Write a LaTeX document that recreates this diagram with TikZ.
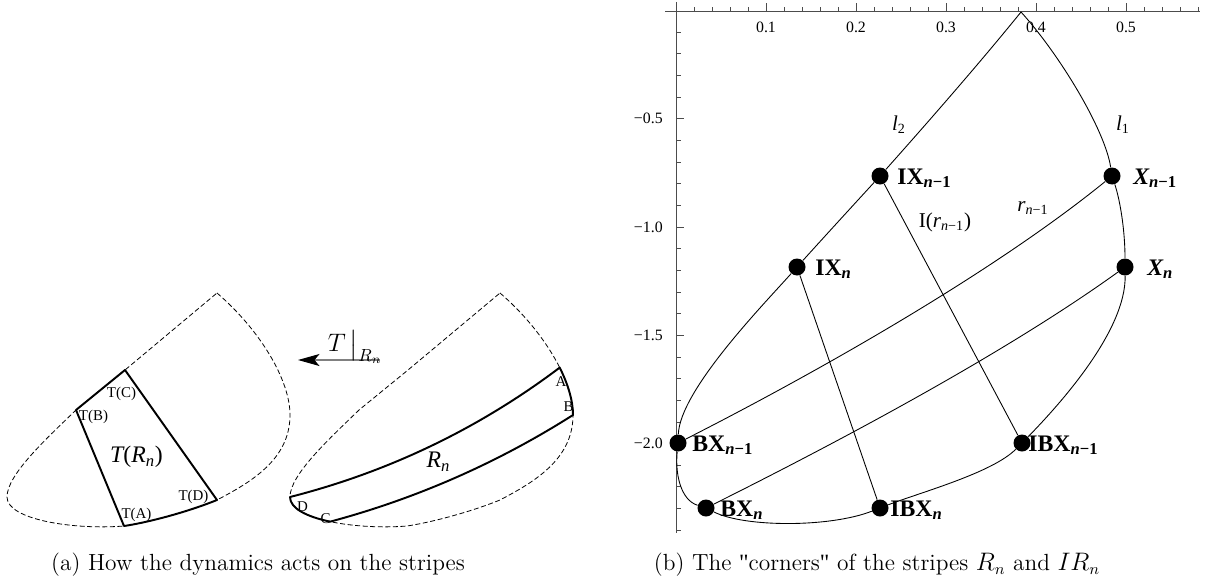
\documentclass[tikz,border=0pt]{standalone}
\usepackage{fontspec}
\usepackage{amsmath}
\usetikzlibrary{arrows.meta}
\newfontfamily\tms{Liberation Serif}
\newfontfamily\tmsq{Liberation Serif}[Ligatures=TeXOff]
\newcommand{\ti}[1]{{\itshape #1}}
\newcommand{\sq}{{\tmsq\symbol{34}}}
\tikzset{
  bnd/.style={draw=black, line width=0.45pt, dash pattern=on 2.8pt off 1.5pt},
  strp/.style={draw=black, line width=1.1pt, line join=round},
  crv/.style={draw=black, line width=0.5pt},
  axs/.style={draw=black!70, line width=0.5pt},
  tk/.style={draw=black!70, line width=0.4pt},
  dot/.style={circle, fill=black, inner sep=0pt, minimum size=3.4mm},
  crn/.style={font=\tms\fontsize{8.5}{10}\selectfont, inner sep=0pt},
  big/.style={font=\tms\fontsize{13.5}{16}\selectfont, inner sep=0pt},
  num/.style={font=\tms\fontsize{9}{11}\selectfont, inner sep=0pt},
  crvlbl/.style={font=\tms\fontsize{12}{14}\selectfont, inner sep=0pt},
  dotlbl/.style={font=\tms\bfseries\fontsize{13.5}{16}\selectfont, inner sep=0pt, anchor=base west},
  maplbl/.style={font=\fontsize{14}{17}\selectfont, inner sep=0pt},
  maparr/.style={-{Stealth[length=4.3mm, width=2.4mm, inset=1mm, black]}, draw=black!50, line width=0.6pt},
  capt/.style={font=\fontsize{13.3}{16}\selectfont, inner sep=0pt},
}
\begin{document}
\begin{tikzpicture}[x=1cm,y=1cm]
  \useasboundingbox (0,0) rectangle (24.14,-11.72);
  % (a) the two copies of the domain
  \foreach \sx in {0,5.66} {
    \begin{scope}[xshift=\sx cm]
      \draw[bnd] (4.340,-5.860) .. controls (5.200,-6.600) and (5.800,-7.600) .. (5.800,-8.300)
        .. controls (5.800,-9.200) and (5.000,-9.650) .. (4.340,-10.000)
        .. controls (3.720,-10.250) and (2.950,-10.450) .. (2.480,-10.520)
        .. controls (1.500,-10.600) and (0.140,-10.400) .. (0.140,-9.940)
        .. controls (0.140,-9.500) and (0.900,-8.800) .. (1.520,-8.200)
        -- (2.500,-7.400) -- cycle;
    \end{scope}
  }
  % image T(R_n)
  \coordinate (ta) at (2.480,-10.520);
  \coordinate (tb) at (1.520,-8.200);
  \coordinate (tc) at (2.500,-7.400);
  \coordinate (td) at (4.340,-10.000);
  \draw[strp] (tb) -- (tc) -- (td) .. controls (3.720,-10.250) and (2.950,-10.450) .. (ta) -- cycle;
  \node[crn] (ltc) at (2.430,-7.870) {T(C)};
  \node[crn] (ltb) at (1.870,-8.330) {T(B)};
  \node[big] (ltr) at (2.730,-9.130) {\ti{T}(\ti{R}\textsubscript{\ti{n}})};
  \node[crn] (ltd) at (3.870,-9.930) {T(D)};
  \node[crn] (lta) at (2.730,-10.300) {T(A)};
  % stripe R_n
  \coordinate (ra) at (11.194,-7.352);
  \coordinate (rb) at (11.460,-8.300);
  \coordinate (rc) at (6.603,-10.433);
  \coordinate (rd) at (5.800,-9.940);
  \draw[strp] (ra) .. controls (11.364,-7.692) and (11.460,-8.020) .. (rb)
    .. controls (9.950,-9.258) and (8.331,-9.969) .. (rc)
    .. controls (6.140,-10.335) and (5.800,-10.170) .. (rd)
    .. controls (7.771,-9.438) and (9.569,-8.576) .. (ra) -- cycle;
  \node[crn] (lra) at (11.220,-7.630) {A};
  \node[crn] (lrb) at (11.370,-8.130) {B};
  \node[crn] (lrc) at (6.510,-10.370) {C};
  \node[crn] (lrd) at (6.050,-10.130) {D};
  \node[big] (lrn) at (8.770,-9.230) {\ti{R}\textsubscript{\ti{n}}};
  % the map
  \coordinate (mapfrom) at (7.600,-7.200);
  \coordinate (mapto) at (5.960,-7.200);
  \draw[maparr] (mapfrom) -- (mapto);
  \node[maplbl] (mapname) at (7.100,-6.940) {$T\,\big|_{R_n}$};
  \node[capt] (capa) at (5.160,-11.300) {(a) How the dynamics acts on the stripes};

  % (b) axes
  \draw[axs] (13.300,-0.220) -- (24.000,-0.220);
  \draw[axs] (13.520,-0.040) -- (13.520,-10.660);
  \foreach \i in {1,...,29}
    \draw[tk] ({13.52+0.36*\i},-0.220) -- ++(0,0.090);
  \foreach \i/\v in {5/0.1,10/0.2,15/0.3,20/0.4,25/0.5} {
    \draw[tk] ({13.52+0.36*\i},-0.220) -- ++(0,0.160);
    \node[num] at ({13.52+0.36*\i},-0.540) {\v};
  }
  \foreach \j in {1,...,24}
    \draw[tk] (13.520,{-0.21-0.433*\j}) -- ++(0.090,0);
  \foreach \j/\v in {5/0.5,10/1.0,15/1.5,20/2.0} {
    \draw[tk] (13.520,{-0.21-0.433*\j}) -- ++(0.160,0);
    \node[num, anchor=east] at (13.260,{-0.21-0.433*\j}) {−\v};
  }
  % corners
  \coordinate (tipb) at (20.420,-0.240);
  \node[dot] (ixm) at (17.600,-3.520) {};
  \node[dot] (xm) at (22.240,-3.520) {};
  \node[dot] (ixn) at (15.940,-5.340) {};
  \node[dot] (xn) at (22.500,-5.340) {};
  \node[dot] (bxm) at (13.560,-8.860) {};
  \node[dot] (ibxm) at (20.440,-8.860) {};
  \node[dot] (bxn) at (14.120,-10.160) {};
  \node[dot] (ibxn) at (17.600,-10.160) {};
  \draw[crv] (tipb) .. controls (19.570,-1.290) and (18.500,-2.510) .. (ixm)
    .. controls (17.050,-4.120) and (16.500,-4.720) .. (ixn)
    .. controls (15.300,-6.060) and (13.600,-7.800) .. (bxm)
    .. controls (13.500,-9.500) and (13.620,-10.000) .. (bxn)
    .. controls (14.900,-10.550) and (16.600,-10.550) .. (ibxn)
    .. controls (18.400,-9.850) and (19.840,-9.460) .. (ibxm)
    .. controls (21.240,-8.040) and (22.520,-6.600) .. (xn)
    .. controls (22.500,-4.600) and (22.400,-4.000) .. (xm)
    .. controls (22.100,-2.600) and (21.200,-1.100) .. (tipb);
  \draw[crv] (xm) .. controls (19.740,-5.550) and (16.060,-7.590) .. (bxm);
  \draw[crv] (xn) .. controls (20.000,-7.140) and (16.520,-8.960) .. (bxn);
  \draw[crv] (ixm) -- (ibxm);
  \draw[crv] (ixn) -- (ibxn);
  \node[crvlbl] (ltwo) at (17.980,-2.500) {\ti{l}\textsubscript{2}};
  \node[crvlbl] (lone) at (22.460,-2.500) {\ti{l}\textsubscript{1}};
  \node[crvlbl] (irm) at (18.900,-4.440) {I(\ti{r}\textsubscript{\ti{n}−1})};
  \node[crvlbl] (rm) at (20.660,-4.160) {\ti{r}\textsubscript{\ti{n}−1}};
  \node[dotlbl] (lixm) at (17.940,-3.680) {IX\textsubscript{\ti{n}−1}};
  \node[dotlbl] (lxm) at (22.660,-3.680) {\ti{X}\textsubscript{\ti{n}−1}};
  \node[dotlbl] (lixn) at (16.300,-5.500) {IX\textsubscript{\ti{n}}};
  \node[dotlbl] (lxn) at (22.940,-5.500) {\ti{X}\textsubscript{\ti{n}}};
  \node[dotlbl] (lbxm) at (13.840,-9.020) {BX\textsubscript{\ti{n}−1}};
  \node[dotlbl] (libxm) at (20.560,-9.020) {IBX\textsubscript{\ti{n}−1}};
  \node[dotlbl] (lbxn) at (14.400,-10.320) {BX\textsubscript{\ti{n}}};
  \node[dotlbl] (libxn) at (17.800,-10.320) {IBX\textsubscript{\ti{n}}};
  \node[capt] (capb) at (17.540,-11.300) {(b) The \sq corners\sq{} of the stripes $R_n$ and $IR_n$};
\end{tikzpicture}
\end{document}
